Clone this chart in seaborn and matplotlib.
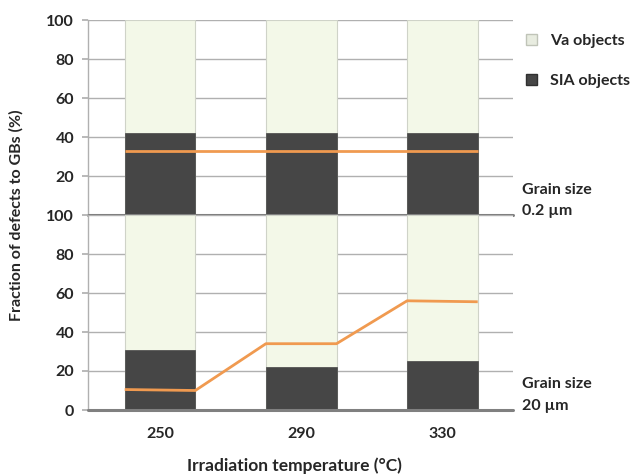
import matplotlib
matplotlib.use("Agg")
import matplotlib.pyplot as plt
import seaborn as sns
import pandas as pd
from matplotlib.patches import Patch

temps = ["250", "290", "330"]
sia_small = [42, 42, 42]
va_small = [58, 58, 58]
sia_large = [31, 22, 25]
va_large = [69, 78, 75]
gb_small_left = [33, 33, 33]
gb_small_right = [33, 33, 33]
gb_large_left = [10.5, 34, 56]
gb_large_right = [10, 34, 55.5]

sns.set_theme(style="white")
plt.rcParams["font.family"] = ["Lato", "DejaVu Sans"]
plt.rcParams["font.weight"] = "bold"

VA_COL = "#f3f8e8"
SIA_COL = "#464646"
ORANGE = "#f09a50"
GRID = "#b0b0b0"
BW = 0.5

fig = plt.figure(figsize=(6.33, 4.75), dpi=100)
L, R = 88 / 633, 513 / 633
ax_top = fig.add_axes([L, 1 - 215 / 475, R - L, (215 - 20) / 475])
ax_bot = fig.add_axes([L, 1 - 410 / 475, R - L, (410 - 215) / 475])


def panel(ax, sia, va, gl, gr, show_zero):
    df = pd.DataFrame({"T": temps, "total": [s + v for s, v in zip(sia, va)], "sia": sia})
    sns.barplot(data=df, x="T", y="total", color=VA_COL, width=BW, ax=ax,
                edgecolor="#cfd3c8", linewidth=0.8, saturation=1, zorder=2)
    sns.barplot(data=df, x="T", y="sia", color=SIA_COL, width=BW, ax=ax,
                edgecolor=SIA_COL, linewidth=0.5, saturation=1, zorder=3)
    xs, ys = [], []
    for i in range(len(temps)):
        xs += [i - BW / 2, i + BW / 2]
        ys += [gl[i], gr[i]]
    ax.plot(xs, ys, color=ORANGE, lw=2, zorder=4, solid_capstyle="butt")
    ax.set_xlim(-0.51, 2.5)
    ax.set_ylim(0, 100)
    ticks = [0, 20, 40, 60, 80, 100] if show_zero else [20, 40, 60, 80, 100]
    ax.set_yticks(ticks)
    ax.set_yticklabels([str(t) for t in ticks], fontsize=11.5, fontweight="bold")
    for t in [20, 40, 60, 80, 100]:
        ax.axhline(t, color=GRID, lw=1, zorder=1)
    ax.axhline(0, color="#808080", lw=2.2, zorder=5, clip_on=False)
    for s in ["top", "right", "bottom"]:
        ax.spines[s].set_visible(False)
    ax.spines["left"].set_color(GRID)
    ax.spines["left"].set_linewidth(1)
    ax.tick_params(axis="y", length=4, color=GRID, pad=6, left=True)
    ax.set_ylabel("")
    ax.set_xlabel("")


panel(ax_top, sia_small, va_small, gb_small_left, gb_small_right, False)
panel(ax_bot, sia_large, va_large, gb_large_left, gb_large_right, True)

ax_top.set_xticks([])
ax_bot.tick_params(axis="x", length=0, pad=12)
ax_bot.set_xticks(range(len(temps)))
ax_bot.set_xticklabels(temps, fontsize=11.5, fontweight="bold")

fig.text((88 + 513) / 2 / 633 - 0.01, 1 - 466 / 475, "Irradiation temperature (°C)",
         ha="center", va="center", fontsize=12.5, fontweight="bold")
fig.text(16 / 633, 1 - 215 / 475, "Fraction of defects to GBs (%)", rotation=90,
         ha="center", va="center", fontsize=11.5, fontweight="bold")

handles = [Patch(facecolor="#e8ece0", edgecolor="#c0c4b8", label="Va objects"),
           Patch(facecolor=SIA_COL, edgecolor="#303030", label="SIA objects")]
fig.legend(handles=handles, loc="upper left", bbox_to_anchor=(523 / 633, 1 - 31 / 475),
           frameon=False, prop={"weight": "bold", "size": 11.5},
           handlelength=0.7, handleheight=0.7, handletextpad=0.8, labelspacing=1.6,
           borderaxespad=0, borderpad=0.2)

fig.text(522 / 633, 1 - 190 / 475, "Grain size", fontsize=11.5, fontweight="bold", va="center")
fig.text(522 / 633, 1 - 211 / 475, "0.2 µm", fontsize=11.5, fontweight="bold", va="center")
fig.text(522 / 633, 1 - 384 / 475, "Grain size", fontsize=11.5, fontweight="bold", va="center")
fig.text(522 / 633, 1 - 406 / 475, "20 µm", fontsize=11.5, fontweight="bold", va="center")

fig.savefig("out.png", dpi=100)
